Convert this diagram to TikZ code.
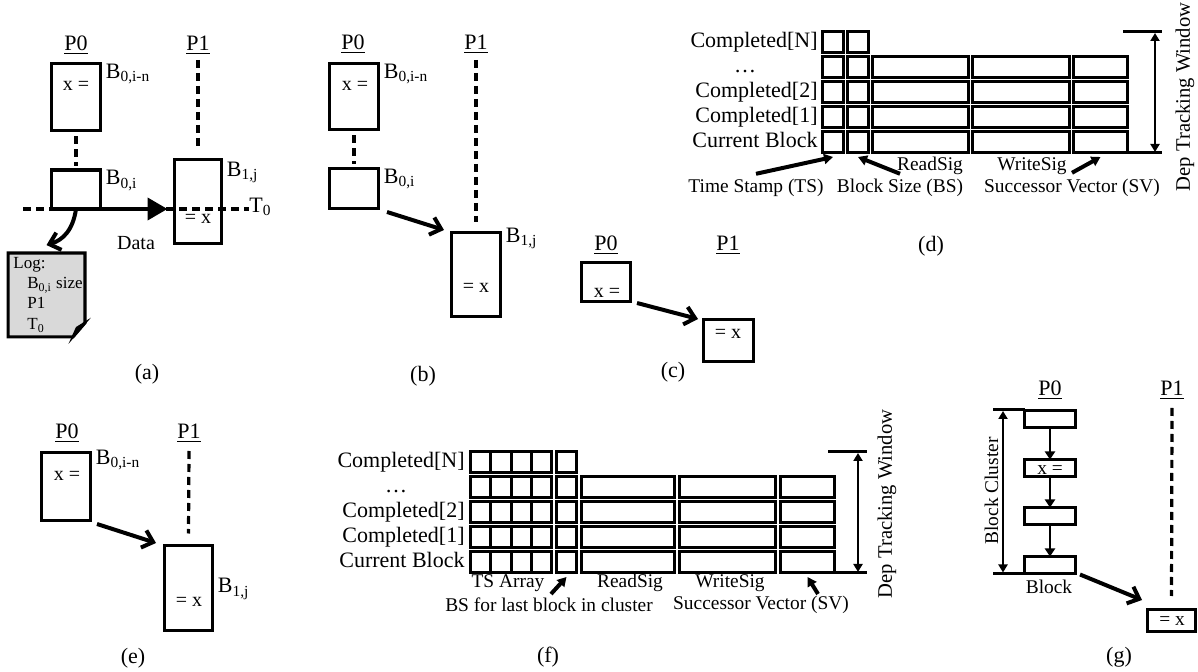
\documentclass[tikz,border=0pt]{standalone}
\usepackage{fontspec}
\setmainfont{Liberation Serif}
\usetikzlibrary{arrows.meta,positioning,calc}

\begin{document}
\begin{tikzpicture}[x=0.5pt,y=-0.5pt,>={Straight Barb[length=5pt,width=9pt]},
   every node/.style={font=\fontsize{11}{13}\selectfont},
   blk/.style 2 args={draw,line width=1.6pt,inner sep=0pt,outer sep=0pt,
     minimum width=#1*.5pt,minimum height=#2*.5pt},
   tcell/.style={draw,line width=1.5pt,inner sep=0pt,outer sep=0pt,minimum height=10.5pt},
   pline/.style={line width=1.6pt,dash pattern=on 4pt off 2.5pt},
   sendarr/.style={->,line width=2pt},
   notearr/.style={-{Triangle[length=4.5pt,width=5pt]},line width=2pt},
   spanarr/.style={{Triangle[length=4pt,width=4.5pt]}-{Triangle[length=4pt,width=4.5pt]},line width=1.3pt},
   plabel/.style={inner sep=0pt},
   blabel/.style={anchor=north west,inner sep=0pt},
   bodytxt/.style={font=\fontsize{10}{12}\selectfont,inner sep=0pt},
   notetxt/.style={font=\fontsize{9.7}{11}\selectfont,inner sep=0pt},
   logtxt/.style={font=\fontsize{8.5}{10}\selectfont,anchor=base west,inner sep=0pt},
   rlabel/.style={anchor=east,inner sep=1pt,text height=7.5pt,text depth=2.4pt},
   wintxt/.style={rotate=90,font=\fontsize{10.3}{12}\selectfont,inner sep=0pt}]

  \useasboundingbox (0,0) rectangle (1198,672);

  % (a) logging a send
  \node[plabel] (aP0) at (76,45) {\underline{P0}};
  \node[plabel] (aP1) at (198,45) {\underline{P1}};
  \node[blk={49}{67}] (aBn) at (76,97) {};
  \node[blk={49}{39}] (aBi) at (76,189.5) {};
  \node[blk={47}{84}] (aBj) at (198,201.5) {};
  \node[blabel] (aBnL) at ([shift={(5,0)}]aBn.north east) {B\textsubscript{0,i-n}};
  \node[blabel] (aBiL) at ([shift={(5,0)}]aBi.north east) {B\textsubscript{0,i}};
  \node[blabel] (aBjL) at ([shift={(5,2)}]aBj.north east) {B\textsubscript{1,j}};
  \node[bodytxt] (aXw) at (76,86) {x =};
  \node[bodytxt] (aXr) at (198,219) {= x};
  \draw[pline] ([shift={(0,6)}]aBn.south) -- ([shift={(0,-4)}]aBi.north);
  \draw[pline] ([shift={(0,15)}]aP1.center) -- ([shift={(0,-11)}]aBj.north);
  \node[blabel,anchor=west] (aT0) at (249,207) {T\textsubscript{0}};
  \coordinate (aTs) at (23,209);
  \draw[pline] (aTs) -- (aTs -| aT0.west);
  \draw[line width=2pt,-{Triangle[length=10pt,width=11pt]}] (aBi.south east)
     -- ($(aBi.south east -| aBj.west)+(-7,0)$);
  \node[bodytxt] (aData) at (136,243) {Data};
  \node[minimum width=38pt,minimum height=41.5pt,inner sep=0pt] (aLog) at (46.5,295) {};
  \draw[line width=1.6pt,fill=gray!30] (aLog.north west) -- (aLog.north east)
     -- ($(aLog.south east)+(0,-14)$) -- ($(aLog.south east)+(-12,0)$)
     -- (aLog.south west) -- cycle;
  \draw[line width=1.2pt,fill=white] ($(aLog.south east)+(0,-14)$)
     -- ($(aLog.south east)+(-8,-9)$) -- ($(aLog.south east)+(-12,0)$) -- cycle;
  \node[logtxt] (aL1) at (13,269) {Log:};
  \node[logtxt] (aL2) at (27,289) {B\textsubscript{0,i} size};
  \node[logtxt] (aL3) at (27,309) {P1};
  \node[logtxt] (aL4) at (27,330) {T\textsubscript{0}};
  \draw[sendarr] (aBi.south) .. controls (73,230) and (63,240) .. ($(aLog.north)+(0,-8)$);
  \node (aCap) at (147,374) {(a)};

  % (b)
  \node[plabel] (bP0) at (353,44) {\underline{P0}};
  \node[plabel] (bP1) at (476,44) {\underline{P1}};
  \node[blk={49}{66}] (bBn) at (354,96.5) {};
  \node[blk={49}{40}] (bBi) at (354,188.5) {};
  \node[blk={49}{84}] (bBj) at (476,274.5) {};
  \node[blabel] (bBnL) at ([shift={(5,0)}]bBn.north east) {B\textsubscript{0,i-n}};
  \node[blabel] (bBiL) at ([shift={(5,0)}]bBi.north east) {B\textsubscript{0,i}};
  \node[blabel] (bBjL) at ([shift={(5,-5)}]bBj.north east) {B\textsubscript{1,j}};
  \node[bodytxt] (bXw) at (355,86) {x =};
  \node[bodytxt] (bXr) at (476,288) {= x};
  \draw[pline] ([shift={(0,6)}]bBn.south) -- ([shift={(0,-4)}]bBi.north);
  \draw[pline] ([shift={(0,16)}]bP1.center) -- ([shift={(0,-10)}]bBj.north);
  \draw[sendarr] ([shift={(8.5,3.5)}]bBi.south east) -- ([shift={(-7.5,-2.5)}]bBj.north west);
  \node (bCap) at (423,376) {(b)};

  % (c)
  \node[plabel] (cP0) at (606,245) {\underline{P0}};
  \node[plabel] (cP1) at (728,245) {\underline{P1}};
  \node[blk={49}{39}] (cB0) at (606,282) {};
  \node[blk={50}{42}] (cB1) at (728.5,340.5) {};
  \node[bodytxt] (cXw) at (607,293) {x =};
  \node[bodytxt] (cXr) at (728,334) {= x};
  \draw[sendarr] ([shift={(6.5,1.5)}]cB0.south east) -- ([shift={(-5.5,-0.5)}]cB1.north west);
  \node (cCap) at (673,372) {(c)};

  % (d) dependence tracking table
  \foreach \a/\b [count=\c] in {822.5/843.5,847.5/868.5,872.5/968.5,972.5/1069.5,1073.5/1127.5}
    \foreach \r in {2,...,5}
      \node[tcell,minimum width={(\b-\a)*0.5pt}] (d\r\c) at ({(\a+\b)/2},{17.5+25*\r}) {};
  \foreach \a/\b [count=\c] in {822.5/843.5,847.5/868.5}
    \node[tcell,minimum width={(\b-\a)*0.5pt}] (d1\c) at ({(\a+\b)/2},42.5) {};
  \foreach \t/\r in {{Completed[N]}/1,{Completed[2]}/3,{Completed[1]}/4,{Current Block}/5}
    \node[rlabel] (dl\r) at (820,{17.5+25*\r}) {\t};
  \node[rlabel,anchor=center] (dl2) at (745,67.5) {\dots};
  \coordinate (dWt) at (1123,32);
  \coordinate (dWb) at (1162,153);
  \draw[line width=1.5pt] (dWt) -- (dWt -| dWb);
  \draw[line width=1.5pt] (d55.south east) -- (dWb);
  \coordinate (dWa) at (1155,33);
  \coordinate (dWz) at (1155,152);
  \draw[spanarr] (dWa) -- (dWz);
  \node[wintxt] (dWin) at (1185,97) {Dep Tracking Window};
  \node[notetxt] (dRs) at (930,166) {ReadSig};
  \node[notetxt] (dWs) at (1032,166) {WriteSig};
  \node[notetxt] (dTs) at (756,188) {Time Stamp (TS)};
  \node[notetxt] (dBs) at (900,188) {Block Size (BS)};
  \node[notetxt] (dSv) at (1072,188) {Successor Vector (SV)};
  \draw[notearr] ($(dTs.north)+(0,-5)$) -- ($(d51.south)+(0,4)$);
  \draw[notearr] ($(dBs.north)+(0,-5)$) -- ($(d52.south)+(0,4)$);
  \draw[notearr] ($(dSv.north)+(0,-6)$) -- ($(d55.south)+(0,4)$);
  \node (dCap) at (931,246) {(d)};

  % (e)
  \node[plabel] (eP0) at (67,433) {\underline{P0}};
  \node[plabel] (eP1) at (189,433) {\underline{P1}};
  \node[blk={49}{68}] (eBn) at (66,486.5) {};
  \node[blk={48}{85}] (eBj) at (188.5,588) {};
  \node[blabel] (eBnL) at ([shift={(5,-3)}]eBn.north east) {B\textsubscript{0,i-n}};
  \node[blabel] (eBjL) at ([shift={(5,-10)}]eBj.east) {B\textsubscript{1,j}};
  \node[bodytxt] (eXw) at (67,476) {x =};
  \node[bodytxt] (eXr) at (189,602) {= x};
  \draw[pline] ([shift={(0,18)}]eP1.center) -- ([shift={(0,-12)}]eBj.north);
  \draw[sendarr] ([shift={(6.5,3.5)}]eBn.south east) -- ([shift={(-8.5,-2.5)}]eBj.north west);
  \node (eCap) at (133,658) {(e)};

  % (f) table with block clusters
  \foreach \a/\b [count=\c] in {470.5/490.75,490.75/511,511/531.25,531.25/551.5,556.5/576.5,581.5/674.5,679.5/775.5,780.5/834.5}
    \foreach \r in {2,...,5}
      \node[tcell,minimum width={(\b-\a)*0.5pt}] (f\r\c) at ({(\a+\b)/2},{437.5+25*\r}) {};
  \foreach \a/\b [count=\c] in {470.5/490.75,490.75/511,511/531.25,531.25/551.5,556.5/576.5}
    \node[tcell,minimum width={(\b-\a)*0.5pt}] (f1\c) at ({(\a+\b)/2},462.5) {};
  \foreach \t/\r in {{Completed[N]}/1,{Completed[2]}/3,{Completed[1]}/4,{Current Block}/5}
    \node[rlabel] (fl\r) at (467,{437.5+25*\r}) {\t};
  \node[rlabel,anchor=center] (fl2) at (396,487.5) {\dots};
  \coordinate (fWt) at (828,452);
  \coordinate (fWb) at (867,573);
  \draw[line width=1.5pt] (fWt) -- (fWt -| fWb);
  \draw[line width=1.5pt] (f58.south east) -- (fWb);
  \coordinate (fWa) at (858,453);
  \coordinate (fWz) at (858,572);
  \draw[spanarr] (fWa) -- (fWz);
  \node[wintxt] (fWin) at (887,504) {Dep Tracking Window};
  \node[notetxt] (fTa) at (508,583) {TS Array};
  \node[notetxt] (fRs) at (630,583) {ReadSig};
  \node[notetxt] (fWs) at (730,583) {WriteSig};
  \node[notetxt] (fBs) at (549,605) {BS for last block in cluster};
  \node[notetxt] (fSv) at (761,605) {Successor Vector (SV)};
  \coordinate (fBa) at (551,594);
  \coordinate (fSa) at (818,594);
  \draw[notearr] (fBa) -- ($(f55.south)+(0,4)$);
  \draw[notearr] (fSa) -- ($(f58.south)+(0,4)$);
  \node (fCap) at (548,657) {(f)};

  % (g) block cluster
  \node[plabel] (gP0) at (1050,390) {\underline{P0}};
  \node[plabel] (gP1) at (1172,390) {\underline{P1}};
  \foreach \y [count=\k] in {419,468,516,565}
    \node[blk={51}{17}] (gB\k) at (1050,\y) {};
  \foreach \k [evaluate=\k as \n using int(\k+1)] in {1,2,3}
    \draw[line width=1.1pt,-{Triangle[length=4pt,width=5pt]}] (gB\k.south) -- (gB\n.north);
  \node[notetxt] (gXw) at (1050,470) {x =};
  \node[blk={48}{22}] (gBx) at (1171.5,620.5) {};
  \node[notetxt] (gXr) at (1172,621) {= x};
  \draw[pline] ([shift={(0,18)}]gP1.center) -- ([shift={(0,-13.5)}]gBx.north);
  \draw[sendarr] ([shift={(4.5,1)}]gB4.south east) -- ([shift={(-5.5,-9.5)}]gBx.north west);
  \coordinate (gCt) at (993,410);
  \coordinate (gCb) at (993,573.5);
  \draw[line width=1.5pt] (gCt) -- (gCt -| gB1.west);
  \draw[line width=1.5pt] (gCb) -- (gB4.south east);
  \draw[spanarr] ($(gCt)+(10,1)$) -- ($(gCb)+(10,-1)$);
  \node[notetxt,rotate=90] (gClu) at (991.5,491) {Block Cluster};
  \node[notetxt] (gBlk) at (1049,587) {Block};
  \node (gCap) at (1119,657) {(g)};
\end{tikzpicture}
\end{document}
